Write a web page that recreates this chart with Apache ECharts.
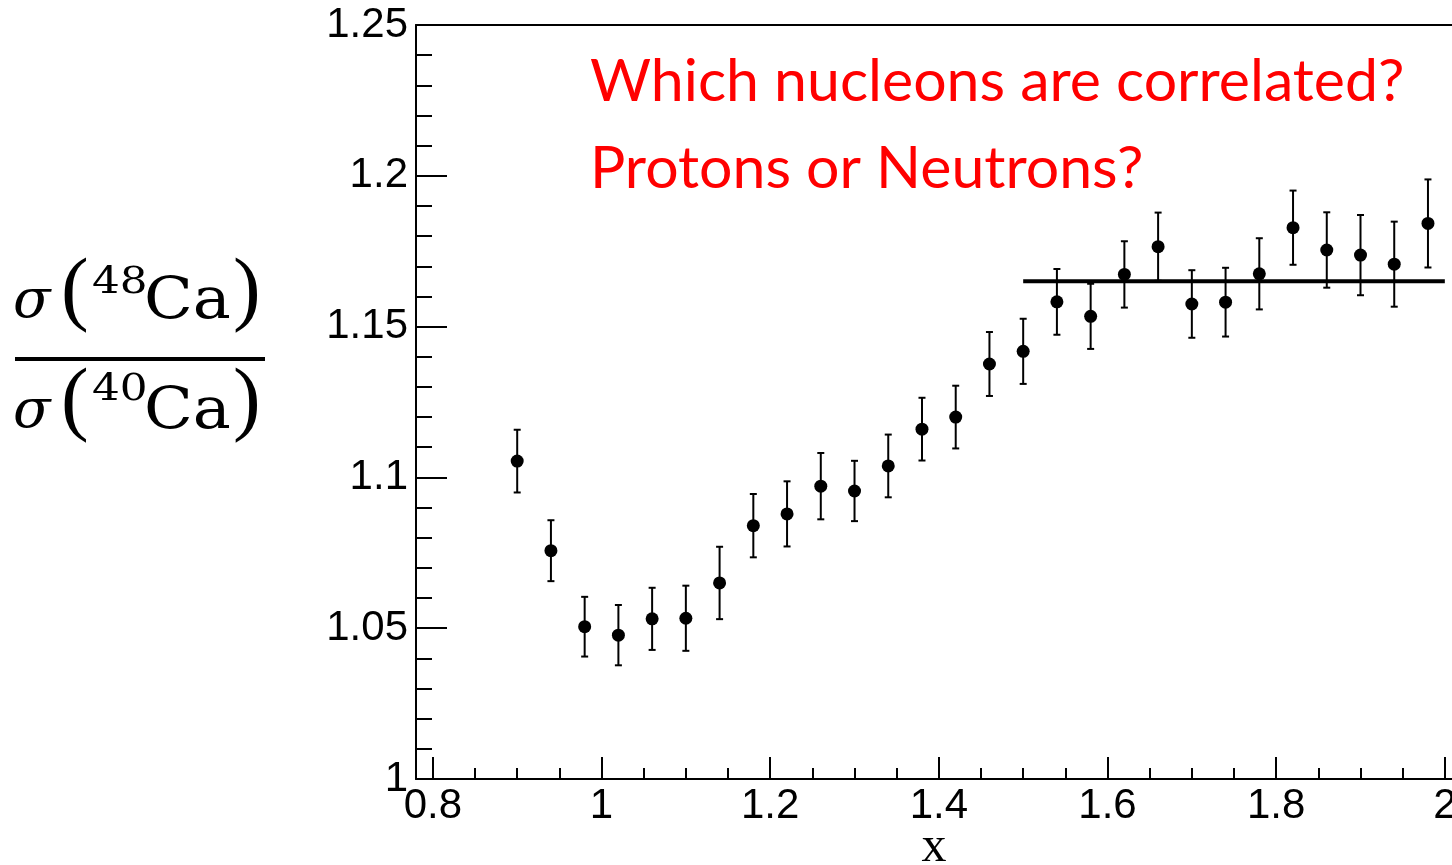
<!DOCTYPE html>
<html>
<head>
<meta charset="utf-8">
<script src="https://cdn.jsdelivr.net/npm/echarts@6/dist/echarts.min.js"></script>
<style>
html,body{margin:0;padding:0;background:#fff;overflow:hidden;}
#chart{width:1452px;height:865px;}
</style>
</head>
<body>
<div id="chart"></div>
<script>
// ---- data ----
var xValues = [0.90,0.94,0.98,1.02,1.06,1.10,1.14,1.18,1.22,1.26,1.30,1.34,1.38,1.42,
               1.46,1.50,1.54,1.58,1.62,1.66,1.70,1.74,1.78,1.82,1.86,1.90,1.94,1.98];
var ratio   = [1.1054,1.0757,1.0505,1.0477,1.0531,1.0533,1.0650,1.0840,1.0879,1.0971,1.0955,1.1038,1.1160,1.1200,
               1.1376,1.1418,1.1582,1.1534,1.1673,1.1765,1.1575,1.1581,1.1675,1.1828,1.1754,1.1737,1.1707,1.1842];
var errors  = [0.0104,0.0101,0.0099,0.0100,0.0103,0.0108,0.0120,0.0105,0.0108,0.0110,0.0100,0.0104,0.0104,0.0104,
               0.0106,0.0108,0.0109,0.0108,0.0110,0.0113,0.0112,0.0114,0.0118,0.0123,0.0125,0.0133,0.0141,0.0146];
var fitX = [1.5, 2.0];
var fitY = [1.165, 1.165];
var xMajorTicks = [0.8,1.0,1.2,1.4,1.6,1.8,2.0];
var xMinorTicks = [0.85,0.9,0.95,1.05,1.1,1.15,1.25,1.3,1.35,1.45,1.5,1.55,1.65,1.7,1.75,1.85,1.9,1.95];
var titleLines = ['Which nucleons are correlated?', 'Protons or Neutrons?'];
var xAxisName = 'x';

// ---- build ----
var points = xValues.map(function(x,i){ return [x, ratio[i]]; });
var bars = xValues.map(function(x,i){ return [x, ratio[i]-errors[i], ratio[i]+errors[i]]; });
var fitData = fitX.map(function(x,i){ return [x, fitY[i]]; });
function fmt(v){ return String(parseFloat(Number(v).toFixed(3))); }

var XMIN = 0.78, XMAX = 2.0085;
var labelFont = 'Liberation Sans, Arial, sans-serif';
var serif = 'Liberation Serif, DejaVu Serif, serif';
var mathFont = 'DejaVu Serif, serif';
var redFont = 'Lato, Open Sans, sans-serif';

function t(txt, x, y, size, extra, sx){
  var st = {text: txt, fontFamily: mathFont, fontSize: size, fill:'#000', verticalAlign:'middle', align:'left'};
  if (extra) for (var k in extra) st[k] = extra[k];
  return {type:'text', x: x, y: y, scaleX: sx || 1, style: st};
}

var chart = echarts.init(document.getElementById('chart'));
chart.setOption({
  animation: false,
  backgroundColor: '#fff',
  grid: {left: 416, top: 25, right: 0, bottom: 86, containLabel: false, outerBoundsMode: 'none'},
  xAxis: [
    {type:'value', min:XMIN, max:XMAX, position:'bottom',
     name: xAxisName, nameLocation:'middle', nameGap: 44, nameMoveOverlap: false,
     nameTextStyle:{fontFamily: serif, fontSize: 50, color:'#000'},
     axisLine:{show:true, onZero:false, lineStyle:{color:'#000', width:2}},
     axisTick:{show:true, inside:true, length:22, customValues: xMajorTicks, lineStyle:{color:'#000', width:2}},
     axisLabel:{show:true, customValues: xMajorTicks, formatter: fmt, margin: 6,
                fontFamily: labelFont, fontSize: 42, color:'#000'},
     splitLine:{show:false}},
    {type:'value', min:XMIN, max:XMAX, position:'bottom',
     axisLine:{show:false},
     axisTick:{show:true, inside:true, length:11, customValues: xMinorTicks, lineStyle:{color:'#000', width:2}},
     axisLabel:{show:false}, splitLine:{show:false}},
    {type:'value', min:XMIN, max:XMAX, position:'top',
     axisLine:{show:true, onZero:false, lineStyle:{color:'#000', width:2}},
     axisTick:{show:false}, axisLabel:{show:false}, splitLine:{show:false}}
  ],
  yAxis: {type:'value', min:1, max:1.25, interval:0.05, position:'left',
     axisLine:{show:true, onZero:false, lineStyle:{color:'#000', width:2}},
     axisTick:{show:true, inside:true, length:31, lineStyle:{color:'#000', width:2}},
     minorTick:{show:true, splitNumber:5, length:16, lineStyle:{color:'#000', width:2}},
     axisLabel:{formatter: fmt, margin: 8, fontFamily: labelFont, fontSize: 42, color:'#000'},
     splitLine:{show:false}, minorSplitLine:{show:false}},
  graphic: [
    {type:'text', x: 590, y: 82, style:{text: titleLines[0], fontFamily: redFont, fontSize:59, fill:'#ff0000', verticalAlign:'middle'}},
    {type:'text', x: 590, y: 169, style:{text: titleLines[1], fontFamily: redFont, fontSize:59, fill:'#ff0000', verticalAlign:'middle'}},
    // y-axis label: sigma(48Ca)/sigma(40Ca)
    t('σ', 13, 302.7, 55, {fontStyle:'italic'}),
    t('(', 61, 293, 83, {fontFamily: serif}),
    t('48', 92, 283, 38, null, 1.15),
    t('Ca', 144, 302.7, 57, null, 1.12),
    t(')', 233, 293, 83, {fontFamily: serif}),
    {type:'line', shape:{x1:15, y1:359, x2:265, y2:359}, style:{stroke:'#000', lineWidth:4}},
    t('σ', 13, 412.7, 55, {fontStyle:'italic'}),
    t('(', 61, 403, 83, {fontFamily: serif}),
    t('40', 92, 390, 38, null, 1.15),
    t('Ca', 144, 412.7, 57, null, 1.12),
    t(')', 233, 403, 83, {fontFamily: serif})
  ],
  series: [
    {type:'custom', xAxisIndex:0, data: bars, z: 2,
     renderItem: function(params, api){
       var x = api.value(0);
       var lo = api.coord([x, api.value(1)]);
       var hi = api.coord([x, api.value(2)]);
       var w = 3.5;
       var st = {stroke:'#000', lineWidth:2};
       return {type:'group', children:[
         {type:'line', shape:{x1:lo[0], y1:lo[1], x2:hi[0], y2:hi[1]}, style:st},
         {type:'line', shape:{x1:lo[0]-w, y1:lo[1], x2:lo[0]+w, y2:lo[1]}, style:st},
         {type:'line', shape:{x1:hi[0]-w, y1:hi[1], x2:hi[0]+w, y2:hi[1]}, style:st}
       ]};
     }},
    {type:'line', xAxisIndex:0, data: fitData, showSymbol:false, symbol:'none', z: 3,
     lineStyle:{color:'#000', width:4}},
    {type:'scatter', xAxisIndex:0, data: points, symbol:'circle', symbolSize:13, z: 4,
     itemStyle:{color:'#000', opacity:1}}
  ]
});
</script>
</body>
</html>
